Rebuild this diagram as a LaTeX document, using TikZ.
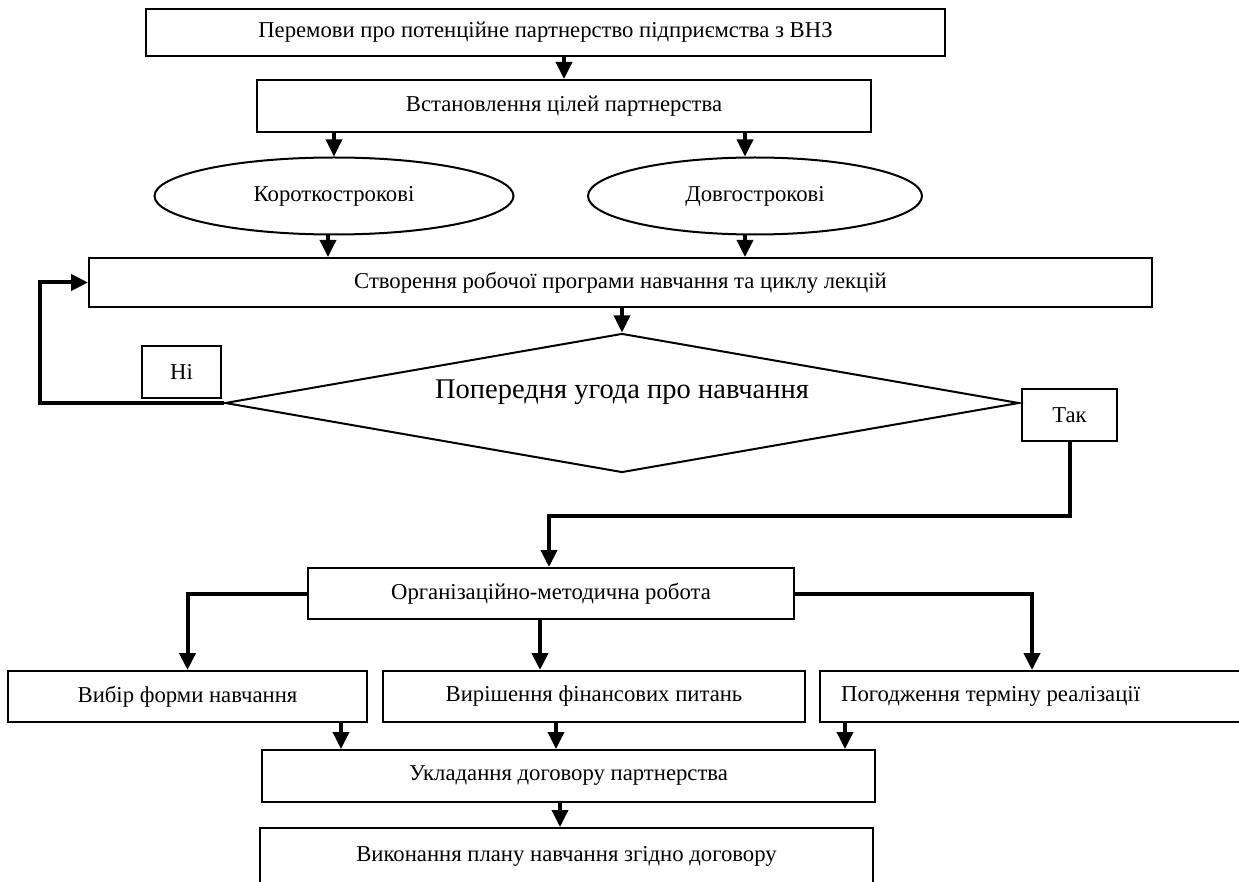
\documentclass[tikz,border=0pt]{standalone}
\usepackage{fontspec}
\setmainfont{Liberation Serif}
\usetikzlibrary{arrows.meta,shapes.geometric,calc}
\tikzset{
  txt/.style={font=\fontsize{22.7}{26}\selectfont},
  box/.style={draw,line width=2pt,rectangle,inner sep=0pt,txt},
  oval/.style={draw,line width=2pt,ellipse,inner sep=0pt,txt},
  lbl/.style={inner sep=0pt,txt},
  tip/.style={-{Triangle[width=16pt,length=17pt]}},
  arr/.style={line width=3.5pt,tip},
  thk/.style={line width=4pt,tip},
}
\begin{document}
\begin{tikzpicture}[x=1pt,y=-1pt]
\useasboundingbox[fill=white] (0,0) rectangle (1239,882);
\node[box,minimum width=799,minimum height=47] (b1) at (545.5,32.5) {Перемови про потенційне партнерство підприємства з ВНЗ};
\node[box,minimum width=614,minimum height=52] (b2) at (564,106) {Встановлення цілей партнерства};
\node[oval,minimum width=359,minimum height=77] (e1) at (334,196) {Короткострокові};
\node[oval,minimum width=334,minimum height=77] (e2) at (755,196) {Довгострокові};
\node[box,minimum width=1063,minimum height=49] (b3) at (620.5,282.5) {Створення робочої програми навчання та циклу лекцій};
\node[draw,line width=2pt,diamond,inner sep=0pt,minimum width=794,minimum height=139] (d) at (622,403) {};
\node[lbl,font=\fontsize{28.5}{32}\selectfont] (dt) at (622,392) {Попередня угода про навчання};
\node[box,minimum width=79,minimum height=52] (no) at (181.5,372) {Ні\hspace{12pt}};
\node[box,minimum width=95,minimum height=52] (yes) at (1069.5,415) {Так\hspace{12pt}};
\node[box,minimum width=486,minimum height=51] (b4) at (551,593.5) {Організаційно-методична робота};
\node[box,minimum width=359,minimum height=51] (b5) at (187.5,696.5) {Вибір форми навчання};
\node[box,minimum width=422,minimum height=51] (b6) at (594,696.5) {Вирішення фінансових питань};
\node[box,minimum width=430,minimum height=51] (b7) at (1035,696.5) {};
\node[lbl,anchor=west] (b7t) at (841,696.5) {Погодження терміну реалізації};
\node[box,minimum width=613,minimum height=52] (b8) at (568.5,776) {Укладання договору партнерства};
\node[box,minimum width=613,minimum height=56] (b9) at (566.5,856) {Виконання плану навчання згідно договору};
% connectors
\draw[arr] (b1.south -| b2.north) -- (b2.north);
\draw[arr] (b2.south -| e1.north) -- (e1.north);
\draw[arr] (745,0 |- b2.south) -- (745,0 |- e2.north);
\draw[arr] (328,0 |- e1.south) -- (328,0 |- b3.north);
\draw[arr] (745,0 |- e2.south) -- (745,0 |- b3.north);
\draw[arr] (b3.south -| d.north) -- (d.north);
\draw[thk] (d.west) -- (40,0 |- d.west) -- (40,0 |- b3.west) -- (b3.west);
\draw[thk] (yes.south) -- (yes.south |- 0,516) -- (549,516) -- (549,0 |- b4.north);
\draw[thk] (b4.west) -- (b4.west -| b5.north) -- (b5.north);
\draw[thk] (540,0 |- b4.south) -- (540,0 |- b6.north);
\draw[thk] (b4.east) -- (1032,0 |- b4.east) -- (1032,0 |- b7.north);
\draw[arr] (341,0 |- b5.south) -- (341,0 |- b8.north);
\draw[arr] (556,0 |- b6.south) -- (556,0 |- b8.north);
\draw[arr] (845,0 |- b7.south) -- (845,0 |- b8.north);
\draw[arr] (560,0 |- b8.south) -- (560,0 |- b9.north);
\end{tikzpicture}
\end{document}
